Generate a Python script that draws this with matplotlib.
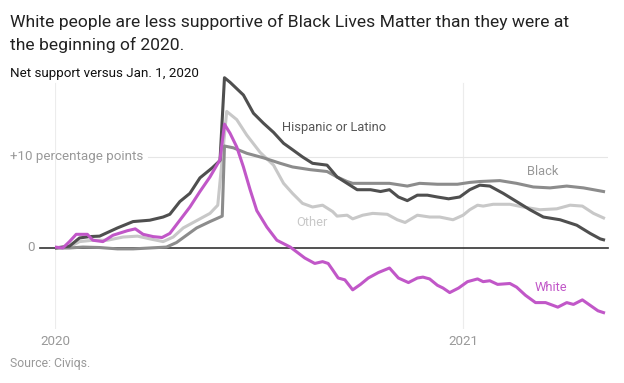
import numpy as np
import matplotlib
matplotlib.use('Agg')
import matplotlib.pyplot as plt

plt.rcParams['font.family'] = ['Roboto', 'DejaVu Sans']

# days since Jan 1, 2020 -> net support vs Jan 1, 2020 (percentage points)
white_days = [0, 7, 13, 19, 29, 34, 43, 52, 65, 72, 79, 88, 96, 103, 112, 121, 130, 139, 148,
              152, 157, 163, 169, 175, 181, 190, 199, 211, 217, 224, 233, 240, 245, 249, 254,
              260, 267, 274, 281, 290, 300, 308, 317, 325, 330, 336, 343, 348, 354, 362, 370,
              379, 384, 390, 397, 408, 414, 422, 431, 440, 451, 459, 465, 473, 480, 487, 492]
white_vals = [0.1, 0, 0.7, 1.5, 1.5, 0.85, 0.7, 1.4, 1.9, 2.1, 1.5, 1.25, 1.15, 1.6, 3.05, 4.5,
              6.2, 7.8, 9.7, 13.6, 12.6, 11.1, 8.9, 6.4, 4.1, 2.3, 0.85, 0.1, -0.45, -1.1, -1.7,
              -1.5, -1.7, -2.4, -3.3, -3.5, -4.6, -4.0, -3.3, -2.7, -2.2, -3.3, -3.8, -3.3, -3.2,
              -3.4, -4.1, -4.4, -4.9, -4.4, -3.7, -3.4, -3.7, -3.6, -4.0, -3.9, -4.3, -5.2, -6.0,
              -6.0, -6.5, -6.0, -6.2, -5.7, -6.3, -6.9, -7.1]

hisp_days = [0, 13, 22, 31, 40, 56, 70, 85, 97, 103, 112, 121, 130, 141, 148, 152, 157, 169,
             178, 187, 196, 205, 213, 222, 231, 244, 253, 262, 271, 283, 292, 300, 308, 316,
             325, 334, 343, 353, 363, 372, 381, 390, 402, 414, 426, 438, 453, 468, 480, 489, 492]
hisp_vals = [0, 0.2, 1.1, 1.25, 1.3, 2.2, 2.9, 3.05, 3.4, 3.7, 5.1, 6.0, 7.7, 8.8, 9.6, 18.7,
             18.2, 16.8, 14.8, 13.7, 12.7, 11.5, 10.8, 10.0, 9.3, 9.1, 7.8, 7.1, 6.4, 6.4, 6.2,
             6.4, 5.6, 5.2, 5.8, 5.8, 5.6, 5.4, 5.6, 6.4, 6.9, 6.8, 6.0, 5.1, 4.2, 3.4, 3.1, 2.5,
             1.6, 1.0, 0.9]

black_days = [0, 13, 25, 40, 56, 70, 85, 100, 109, 118, 127, 139, 150, 152, 160, 172, 187, 202,
              213, 229, 244, 253, 262, 267, 283, 300, 316, 327, 343, 361, 372, 381, 399, 414,
              429, 444, 459, 474, 492]
black_vals = [0, 0, 0.1, 0.05, -0.1, -0.1, 0, 0.1, 0.6, 1.4, 2.2, 2.9, 3.5, 11.2, 11.0, 10.4,
              9.9, 9.3, 8.9, 8.6, 8.4, 7.8, 7.3, 7.1, 7.1, 7.1, 6.8, 7.1, 7.0, 7.0, 7.2, 7.3, 7.4,
              7.1, 6.7, 6.6, 6.8, 6.6, 6.2]

other_days = [0, 13, 22, 34, 47, 61, 74, 85, 97, 106, 115, 127, 139, 146, 154, 163, 172, 184,
              196, 205, 213, 222, 231, 240, 249, 253, 262, 267, 276, 285, 298, 307, 314, 325,
              336, 345, 357, 366, 372, 379, 384, 393, 408, 420, 435, 450, 462, 473, 483, 492]
other_vals = [0, 0.1, 0.7, 0.85, 0.85, 1.2, 1.3, 1.0, 0.7, 1.2, 2.2, 3.0, 3.8, 4.7, 15.0, 14.1,
              12.4, 10.5, 9.1, 7.1, 6.0, 4.9, 4.5, 4.7, 4.0, 3.5, 3.6, 3.2, 3.6, 3.8, 3.7, 3.1,
              2.8, 3.6, 3.4, 3.4, 3.1, 3.6, 4.2, 4.7, 4.6, 4.8, 4.8, 4.5, 4.2, 4.3, 4.7, 4.6, 3.8,
              3.3]

start = np.datetime64('2020-01-01')


def to_dates(days):
    return start + np.array(days).astype('timedelta64[D]')


fig = plt.figure(figsize=(6.24, 3.83), dpi=100)
ax = fig.add_axes([55 / 624, 1 - 329 / 383, 553 / 624, 254 / 383])

ax.set_xlim(start, start + np.timedelta64(496, 'D'))
ax.set_ylim(-8.9, 19.0)

# grid
for d in ['2020-01-01', '2021-01-01']:
    ax.axvline(np.datetime64(d), ymin=0, ymax=0.97, color='#ececec', lw=0.8, zorder=0)
ax.axhline(10, xmin=0.168, xmax=1, color='#e6e6e6', lw=0.8, zorder=0)
ax.axhline(0, xmin=-0.027, xmax=1, color='#333333', lw=1.2, zorder=1, clip_on=False)

lw = 2.2
ax.plot(to_dates(other_days), other_vals, color='#c8c8c8', lw=lw, zorder=2, solid_joinstyle='round')
ax.plot(to_dates(black_days), black_vals, color='#8c8c8c', lw=lw, zorder=3, solid_joinstyle='round')
ax.plot(to_dates(hisp_days), hisp_vals, color='#4f4f4f', lw=lw, zorder=4, solid_joinstyle='round')
ax.plot(to_dates(white_days), white_vals, color='#c157c8', lw=lw, zorder=5, solid_joinstyle='round')

# series labels
fs = 9.3
ax.text(start + np.timedelta64(204, 'D'), 13.2, 'Hispanic or Latino', color='#555555',
        fontsize=fs, va='center', ha='left')
ax.text(start + np.timedelta64(423, 'D'), 8.35, 'Black', color='#999999',
        fontsize=fs, va='center', ha='left')
ax.text(start + np.timedelta64(216, 'D'), 2.85, 'Other', color='#c8c8c8',
        fontsize=fs, va='center', ha='left')
ax.text(start + np.timedelta64(430, 'D'), -4.3, 'White', color='#c157c8',
        fontsize=fs, va='center', ha='left')

# y labels
ax.text(0.159, 10, '+10 percentage points', transform=ax.get_yaxis_transform(),
        color='#999999', fontsize=9.6, va='center', ha='right')
ax.text(-0.036, 0, '0', transform=ax.get_yaxis_transform(),
        color='#999999', fontsize=9.6, va='center', ha='right')

ax.set_xticks([np.datetime64('2020-01-01'), np.datetime64('2021-01-01')])
ax.set_xticklabels(['2020', '2021'])
ax.tick_params(axis='x', length=0, pad=4, labelsize=9.6, labelcolor='#999999')
ax.set_yticks([])
for s in ax.spines.values():
    s.set_visible(False)

fig.text(10 / 624, 1 - 27 / 383, 'White people are less supportive of Black Lives Matter than they were at',
         fontsize=12.6, color='#222222', va='baseline', ha='left')
fig.text(10 / 624, 1 - 50 / 383, 'the beginning of 2020.',
         fontsize=12.6, color='#222222', va='baseline', ha='left')
fig.text(10 / 624, 1 - 73 / 383, 'Net support versus Jan. 1, 2020',
         fontsize=9.6, color='#111111', va='center', ha='left')
fig.text(10 / 624, 1 - 363 / 383, 'Source: Civiqs.',
         fontsize=8.8, color='#999999', va='center', ha='left')

fig.savefig('out.png', dpi=100)
